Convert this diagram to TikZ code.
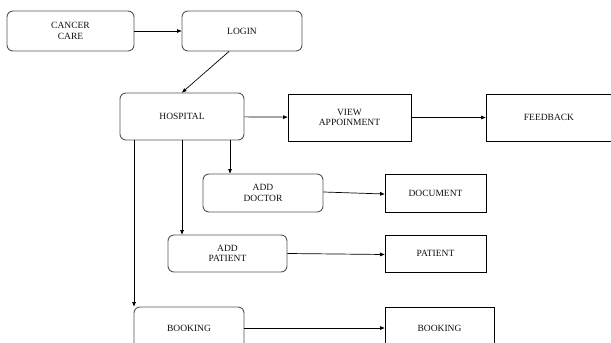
\documentclass[tikz,border=0pt]{standalone}
\usepackage{fontspec}
\setmainfont{Liberation Serif}
\usepackage{xcolor}
\usetikzlibrary{arrows.meta, positioning}
\definecolor{rGray}  {RGB}{85,85,85}
\definecolor{txGray} {RGB}{15,15,15}

\begin{document}
\begin{tikzpicture}[x=1pt, y=-1pt,
    font=\fontsize{9.5}{10.3}\selectfont, text=txGray,
    RBOX/.style={draw=rGray, line width=0.9pt, rounded corners=6pt, align=center, inner sep=0pt},
    SBOX/.style={draw=black, line width=0.7pt, align=center, inner sep=0pt},
    ARR/.style={-{Triangle[length=4.5pt,width=3.5pt]}, line width=0.7pt, black}]
    \useasboundingbox (0,0) rectangle (611,343);
    % rounded boxes
    \node[RBOX, minimum width=127pt, minimum height=40pt] (care) at (70.5,31) {CANCER\\CARE};
    \node[RBOX, minimum width=120pt, minimum height=40pt] (login) at (242,31) {LOGIN};
    \node[RBOX, minimum width=124pt, minimum height=47pt] (hosp) at (182,116.5) {HOSPITAL};
    \node[RBOX, minimum width=120pt, minimum height=38pt] (adddoc) at (263,193) {ADD\\DOCTOR};
    \node[RBOX, minimum width=119pt, minimum height=37pt] (addpat) at (227.5,253.5) {ADD\\PATIENT};
    \node[RBOX, minimum width=110pt, minimum height=42pt] (bookin) at (189,328) {BOOKING};
    % plain boxes
    \node[SBOX, minimum width=123pt, minimum height=47pt] (view) at (349.5,117.5) {VIEW\\APPOINMENT};
    \node[SBOX, minimum width=126pt, minimum height=47pt] (feed) at (549,117.5) {FEEDBACK};
    \node[SBOX, minimum width=101pt, minimum height=38pt] (docu) at (435.5,193) {DOCUMENT};
    \node[SBOX, minimum width=101pt, minimum height=37pt] (pat) at (435.5,253.5) {PATIENT};
    \node[SBOX, minimum width=109pt, minimum height=42pt] (bookout) at (439.5,328) {BOOKING};
    % connectors
    \draw[ARR] (care) -- (login);
    \draw[ARR] ([xshift=-13pt]login.south) -- (hosp.north);
    \draw[ARR] (hosp) -- (view);
    \draw[ARR] (view) -- (feed);
    \draw[ARR] ([xshift=48pt]hosp.south) -- ([xshift=48pt]hosp.south |- adddoc.north);
    \draw[ARR] (hosp.south) -- (hosp.south |- addpat.north);
    \draw[ARR] ([xshift=-48pt]hosp.south) -- ([xshift=-48pt]hosp.south |- bookin.north);
    \draw[ARR] ([yshift=1pt]adddoc.east) -- ([yshift=-1pt]docu.west);
    \draw[ARR] ([yshift=0pt]addpat.east) -- ([yshift=-1pt]pat.west);
    \draw[ARR] (bookin) -- (bookout);
\end{tikzpicture}
\end{document}
